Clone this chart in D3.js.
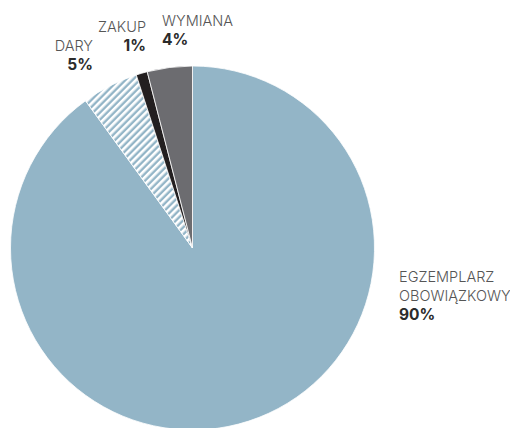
<!DOCTYPE html>
<html>
<head>
<meta charset="utf-8">
<script src="https://cdn.jsdelivr.net/npm/d3@7"></script>
<style>
  html, body { margin: 0; padding: 0; background: #fff; }
  svg { display: block; }
</style>
</head>
<body>
<svg id="chart" width="510" height="428"></svg>
<script>
// ---- data ----
const categories = ["EGZEMPLARZ OBOWIĄZKOWY", "DARY", "ZAKUP", "WYMIANA"];
const values = [90, 5, 1, 4];
const percentLabels = ["90%", "5%", "1%", "4%"];
const labelLines = [["EGZEMPLARZ", "OBOWIĄZKOWY"], ["DARY"], ["ZAKUP"], ["WYMIANA"]];

// ---- layout ----
const W = 510, H = 428;
const cx = 192.5, cy = 248, R = 182;
const fills = ["#93b5c7", "url(#hatch)", "#231f20", "#6c6c70"];
// label anchors: [x, first baseline, text-anchor]
const labelLayout = [
  [399, 282, "start"],
  [93, 51, "end"],
  [146, 32, "end"],
  [162, 26, "start"]
];
const lineH = 19;

const svg = d3.select("#chart");
const defs = svg.append("defs");
const pat = defs.append("pattern")
  .attr("id", "hatch")
  .attr("patternUnits", "userSpaceOnUse")
  .attr("width", 5).attr("height", 5)
  .attr("patternTransform", "rotate(45)");
pat.append("rect").attr("width", 5).attr("height", 5).attr("fill", "#93b5c7");
pat.append("rect").attr("width", 2.6).attr("height", 5).attr("fill", "#ffffff");

const pie = d3.pie().sort(null).value(d => d)
  .startAngle(0).endAngle(2 * Math.PI);
const arc = d3.arc().innerRadius(0).outerRadius(R);

const g = svg.append("g").attr("transform", `translate(${cx},${cy})`);
g.selectAll("path")
  .data(pie(values))
  .join("path")
  .attr("d", arc)
  .attr("fill", (d, i) => fills[i])
  .attr("stroke", "#ffffff")
  .attr("stroke-width", 0.8)
  .attr("stroke-linejoin", "round");

// labels
const lg = svg.append("g");
categories.forEach((c, i) => {
  const [x, y, anchor] = labelLayout[i];
  const t = lg.append("text")
    .attr("x", x).attr("y", y)
    .attr("text-anchor", anchor)
    .style("font-family", "Inter, Roboto, sans-serif");
  labelLines[i].forEach((ln, j) => {
    t.append("tspan")
      .attr("x", x)
      .attr("y", y + j * lineH)
      .attr("font-size", 14.5)
      .attr("font-weight", 300)
      .attr("fill", "#555555")
      .text(ln);
  });
  t.append("tspan")
    .attr("x", x)
    .attr("y", y + labelLines[i].length * lineH)
    .attr("font-size", 15.5)
    .attr("font-weight", 700)
    .attr("fill", "#2b2b2b")
    .text(percentLabels[i]);
});
</script>
</body>
</html>
